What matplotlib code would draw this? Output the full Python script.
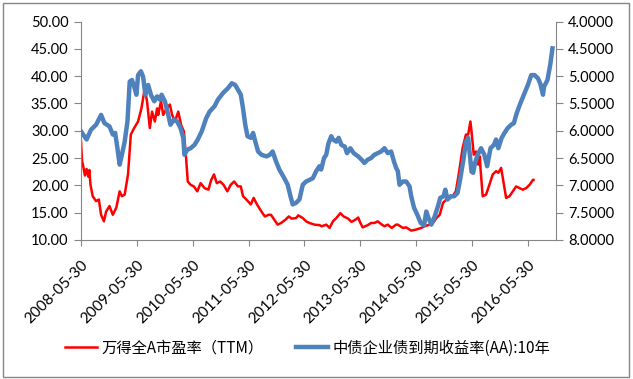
import matplotlib
matplotlib.use("Agg")
import matplotlib.pyplot as plt
import pandas as pd
from matplotlib.patches import Rectangle
from matplotlib.ticker import FormatStrFormatter, MultipleLocator

# 万得全A市盈率(TTM), time in decimal years
pe_t = [2008.41, 2008.43, 2008.45, 2008.48, 2008.51, 2008.54, 2008.56, 2008.58, 2008.62, 2008.68,
        2008.73, 2008.77, 2008.82, 2008.86, 2008.92, 2008.98, 2009.04, 2009.10, 2009.14, 2009.19,
        2009.25, 2009.30, 2009.36, 2009.43, 2009.49, 2009.55, 2009.59, 2009.64, 2009.68, 2009.73,
        2009.77, 2009.79, 2009.84, 2009.88, 2009.94, 2010.00, 2010.04, 2010.09, 2010.15, 2010.20,
        2010.25, 2010.29, 2010.32, 2010.37, 2010.43, 2010.49, 2010.55, 2010.62, 2010.69, 2010.74,
        2010.79, 2010.84, 2010.90, 2010.96, 2011.03, 2011.09, 2011.15, 2011.22, 2011.27, 2011.31,
        2011.37, 2011.45, 2011.50, 2011.56, 2011.64, 2011.70, 2011.77, 2011.81, 2011.87, 2011.93,
        2011.99, 2012.07, 2012.13, 2012.18, 2012.26, 2012.30, 2012.38, 2012.44, 2012.50, 2012.59,
        2012.68, 2012.72, 2012.80, 2012.86, 2012.92, 2012.98, 2013.05, 2013.11, 2013.19, 2013.25,
        2013.32, 2013.37, 2013.41, 2013.45, 2013.54, 2013.60, 2013.66, 2013.72, 2013.78, 2013.84,
        2013.90, 2013.97, 2014.05, 2014.08, 2014.17, 2014.23, 2014.32, 2014.41, 2014.50, 2014.56,
        2014.65, 2014.71, 2014.77, 2014.83, 2014.89, 2014.95, 2015.01, 2015.06, 2015.12, 2015.18,
        2015.24, 2015.30, 2015.34, 2015.38, 2015.40, 2015.44, 2015.48, 2015.52, 2015.55, 2015.56,
        2015.60, 2015.66, 2015.72, 2015.78, 2015.84, 2015.88, 2015.93, 2015.98, 2016.02, 2016.08,
        2016.14, 2016.20, 2016.26, 2016.32, 2016.38, 2016.44, 2016.50, 2016.51]
pe_val = [28.0, 24.4, 23.5, 21.8, 23.0, 21.6, 22.8, 20.1, 18.0, 17.1,
          17.4, 14.6, 13.4, 15.2, 16.2, 14.6, 15.9, 18.9, 18.0, 18.3,
          22.0, 29.3, 30.5, 31.7, 34.1, 37.8, 35.4, 30.5, 33.5, 31.7,
          34.1, 32.9, 35.4, 32.9, 34.1, 34.8, 32.9, 31.7, 33.5, 31.1,
          29.9, 25.0, 20.7, 20.1, 19.8, 18.9, 20.4, 19.5, 19.2, 21.0,
          22.0, 20.4, 20.7, 20.1, 18.9, 20.1, 20.7, 19.8, 19.8, 18.0,
          17.4, 16.5, 17.7, 16.5, 15.2, 14.3, 14.6, 14.6, 13.7, 12.8,
          13.1, 13.7, 14.3, 13.9, 14.0, 14.5, 14.0, 13.4, 13.1, 12.8,
          12.7, 12.5, 12.8, 12.2, 13.4, 14.0, 14.9, 14.3, 13.9, 13.3,
          13.7, 14.1, 13.1, 12.3, 12.7, 13.1, 13.1, 13.4, 12.9, 12.5,
          12.8, 12.2, 12.8, 12.8, 12.2, 12.3, 11.7, 11.9, 12.2, 12.5,
          12.8, 13.1, 14.0, 14.6, 16.8, 17.4, 17.7, 18.0, 18.9, 22.6,
          26.8, 29.3, 29.3, 31.7, 29.9, 25.6, 26.2, 23.8, 25.3, 23.2,
          18.0, 18.3, 20.1, 22.0, 22.6, 22.3, 23.2, 20.1, 17.7, 18.0,
          18.9, 19.8, 19.5, 19.2, 19.5, 20.1, 21.0, 21.0]

# 中债企业债到期收益率(AA):10年
bond_t = [2008.41, 2008.51, 2008.59, 2008.68, 2008.77, 2008.83, 2008.92, 2008.98, 2009.02, 2009.06,
          2009.10, 2009.14, 2009.19, 2009.24, 2009.28, 2009.32, 2009.36, 2009.40, 2009.43, 2009.48,
          2009.52, 2009.56, 2009.61, 2009.66, 2009.72, 2009.77, 2009.82, 2009.85, 2009.91, 2009.97,
          2010.01, 2010.07, 2010.13, 2010.19, 2010.24, 2010.26, 2010.31, 2010.37, 2010.44, 2010.50,
          2010.57, 2010.65, 2010.71, 2010.80, 2010.86, 2010.95, 2011.04, 2011.11, 2011.17, 2011.22,
          2011.27, 2011.31, 2011.35, 2011.39, 2011.45, 2011.49, 2011.53, 2011.58, 2011.64, 2011.73,
          2011.79, 2011.84, 2011.90, 2011.96, 2012.05, 2012.11, 2012.16, 2012.20, 2012.26, 2012.32,
          2012.38, 2012.44, 2012.50, 2012.56, 2012.62, 2012.68, 2012.71, 2012.76, 2012.80, 2012.84,
          2012.89, 2012.92, 2012.98, 2013.02, 2013.07, 2013.13, 2013.17, 2013.23, 2013.29, 2013.37,
          2013.43, 2013.48, 2013.54, 2013.60, 2013.66, 2013.72, 2013.78, 2013.84, 2013.90, 2013.96,
          2014.01, 2014.05, 2014.08, 2014.11, 2014.17, 2014.23, 2014.29, 2014.32, 2014.37, 2014.43,
          2014.49, 2014.55, 2014.59, 2014.63, 2014.68, 2014.74, 2014.80, 2014.84, 2014.90, 2014.93,
          2014.97, 2015.03, 2015.09, 2015.15, 2015.20, 2015.26, 2015.30, 2015.34, 2015.40, 2015.43,
          2015.46, 2015.51, 2015.57, 2015.63, 2015.68, 2015.74, 2015.80, 2015.84, 2015.88, 2015.94,
          2015.99, 2016.05, 2016.11, 2016.16, 2016.20, 2016.24, 2016.29, 2016.35, 2016.41, 2016.47,
          2016.53, 2016.59, 2016.63, 2016.68, 2016.70, 2016.76, 2016.81, 2016.85]
bond_yield = [6.01, 6.16, 5.98, 5.89, 5.71, 5.86, 5.92, 6.07, 6.04, 6.32,
              6.62, 6.44, 6.20, 5.83, 5.10, 5.07, 5.19, 5.34, 4.98, 4.91,
              5.01, 5.34, 5.16, 5.34, 5.46, 5.37, 5.43, 5.34, 5.46, 5.71,
              5.89, 5.80, 5.83, 5.95, 6.13, 6.44, 6.35, 6.32, 6.26, 6.16,
              6.01, 5.77, 5.65, 5.55, 5.43, 5.31, 5.22, 5.13, 5.16, 5.25,
              5.34, 5.59, 5.89, 6.10, 6.13, 6.04, 6.20, 6.38, 6.44, 6.47,
              6.44, 6.38, 6.56, 6.71, 6.87, 6.99, 7.20, 7.35, 7.32, 7.26,
              6.99, 6.93, 6.90, 6.87, 6.74, 6.65, 6.71, 6.50, 6.44, 6.23,
              6.10, 6.16, 6.20, 6.13, 6.26, 6.29, 6.41, 6.32, 6.41, 6.47,
              6.53, 6.59, 6.53, 6.50, 6.44, 6.41, 6.38, 6.32, 6.41, 6.38,
              6.56, 6.68, 6.74, 6.99, 6.93, 6.93, 7.02, 7.20, 7.41, 7.54,
              7.69, 7.73, 7.48, 7.60, 7.72, 7.57, 7.38, 7.23, 7.20, 7.08,
              7.26, 7.20, 7.20, 7.14, 6.87, 6.50, 6.20, 6.13, 6.75, 6.77,
              6.60, 6.44, 6.32, 6.44, 6.65, 6.32, 6.26, 6.16, 6.32, 6.13,
              6.04, 5.95, 5.89, 5.86, 5.71, 5.59, 5.46, 5.31, 5.16, 4.98,
              4.98, 5.04, 5.13, 5.34, 5.19, 5.07, 4.79, 4.49]

tick_labels = ["2008-05-30", "2009-05-30", "2010-05-30", "2011-05-30", "2012-05-30",
               "2013-05-30", "2014-05-30", "2015-05-30", "2016-05-30"]
pe_label = "万得全A市盈率（TTM）"
bond_label = "中债企业债到期收益率(AA):10年"


def to_dates(ts):
    return [pd.Timestamp(int(t), 1, 1) + pd.Timedelta(days=(t - int(t)) * 365.25) for t in ts]


GRAY = "#868686"
num_font = ["Lato", "DejaVu Sans"]
cjk_font = ["Noto Sans CJK SC", "DejaVu Sans"]

fig = plt.figure(figsize=(6.33, 3.79), dpi=100)
ax = fig.add_axes([0.128, 0.367, 0.750, 0.576])
ax2 = ax.twinx()

l1, = ax.plot(to_dates(pe_t), pe_val, color="#ff0000", lw=1.8)
l2, = ax2.plot(to_dates(bond_t), bond_yield, color="#4f81bd", lw=3.2)

ax.set_xlim(pd.Timestamp("2008-05-30"), pd.Timestamp("2016-11-28"))
ax.set_ylim(10, 50)
ax.yaxis.set_major_locator(MultipleLocator(5))
ax.yaxis.set_major_formatter(FormatStrFormatter("%.2f"))
ax2.set_ylim(8, 4)
ax2.yaxis.set_major_locator(MultipleLocator(0.5))
ax2.yaxis.set_major_formatter(FormatStrFormatter("%.4f"))

ax.set_xticks([pd.Timestamp(s) for s in tick_labels])
ax.set_xticklabels(tick_labels, rotation=45, ha="right", va="top", rotation_mode="anchor",
                   family=num_font, fontsize=11)

for a in (ax, ax2):
    for side in a.spines:
        a.spines[side].set_color(GRAY)
    a.spines["top"].set_visible(False)
    a.tick_params(axis="y", direction="out", length=5, color=GRAY, labelsize=10.5, pad=4)
    for lab in a.get_yticklabels():
        lab.set_family(num_font)
ax.tick_params(axis="x", direction="out", length=4, color=GRAY, pad=9)
ax.spines["right"].set_visible(False)
ax2.spines["left"].set_visible(False)
ax2.spines["bottom"].set_visible(False)

fig.legend([l1, l2], [pe_label, bond_label], loc="center", bbox_to_anchor=(0.486, 0.082),
           ncol=2, frameon=False, handlelength=2.1, columnspacing=2.1, handletextpad=0.3,
           prop={"family": cjk_font, "size": 11})

fig.add_artist(Rectangle((0.005, 0.005), 0.988, 0.987, transform=fig.transFigure,
                         fill=False, edgecolor=GRAY, lw=1))

fig.savefig("out.png", dpi=100)
